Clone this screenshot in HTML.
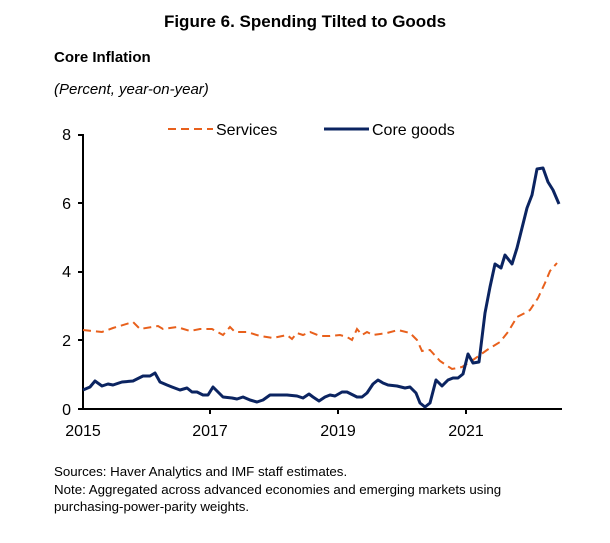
<!DOCTYPE html>
<html><head><meta charset="utf-8"><style>
body{margin:0;background:#fff;width:610px;height:538px;overflow:hidden;font-family:"Liberation Sans",Arial,sans-serif}
</style></head><body>
<svg width="610" height="538" xmlns="http://www.w3.org/2000/svg" font-family="Liberation Sans, Arial, sans-serif">
<text x="305" y="27" text-anchor="middle" font-size="17" font-weight="bold">Figure 6. Spending Tilted to Goods</text>
<text x="54" y="62" font-size="15" font-weight="bold">Core Inflation</text>
<text x="54" y="94" font-size="15" font-style="italic">(Percent, year-on-year)</text>
<g font-size="16" fill="#000">
<text x="71" y="140" text-anchor="end">8</text>
<text x="71" y="209" text-anchor="end">6</text>
<text x="71" y="277" text-anchor="end">4</text>
<text x="71" y="346" text-anchor="end">2</text>
<text x="71" y="415" text-anchor="end">0</text>
<text x="83" y="436" text-anchor="middle">2015</text>
<text x="210" y="436" text-anchor="middle">2017</text>
<text x="338" y="436" text-anchor="middle">2019</text>
<text x="466" y="436" text-anchor="middle">2021</text>
<text x="216" y="135">Services</text>
<text x="372" y="135">Core goods</text>
</g>
<line x1="168" y1="129" x2="213" y2="129" stroke="#E8601C" stroke-width="2" stroke-dasharray="8,5"/>
<line x1="324" y1="129" x2="369" y2="129" stroke="#0B2461" stroke-width="3"/>
<g stroke="#000" stroke-width="2">
<line x1="83" y1="134" x2="83" y2="410"/>
<line x1="82" y1="409" x2="562" y2="409"/>
<line x1="78" y1="135" x2="83" y2="135"/><line x1="78" y1="203" x2="83" y2="203"/><line x1="78" y1="272" x2="83" y2="272"/><line x1="78" y1="340" x2="83" y2="340"/><line x1="78" y1="409" x2="83" y2="409"/>
<line x1="210" y1="409" x2="210" y2="414"/><line x1="338" y1="409" x2="338" y2="414"/><line x1="466" y1="409" x2="466" y2="414"/>
</g>
<polyline fill="none" stroke="#E8601C" stroke-width="2" stroke-dasharray="8,5" points="83,330 102,332 113,328 133,322 140,329 158,326 163,329 177,327 190,331 200,329 212,329 223,335 230,327 235,332 247,332 260,336 273,338 287,335 292,339 297,333 303,335 310,332 320,336 330,336 340,335 347,337 352,340 357,329 362,335 367,332 373,335 387,333 398,330 410,333 417,340 422,351 430,350 440,361 452,369 462,367 473,360 487,350 500,342 508,332 517,317 525,313 530,310 538,298 545,283 550,271 557,263"/>
<polyline fill="none" stroke="#0B2461" stroke-width="3" stroke-linejoin="round" points="83,390 90,387 95,381 102,386 108,384 113,385 122,382 133,381 143,376 150,376 155,373 160,382 167,385 172,387 180,390 187,388 192,392 197,392 203,395 208,395 213,387 223,397 232,398 237,399 243,397 250,400 257,402 263,400 270,395 280,395 287,395 297,396 303,398 309,394 313,397 319,401 325,397 330,395 335,396 342,392 347,392 357,397 362,397 367,393 373,384 378,380 383,383 388,385 397,386 405,388 410,387 416,393 420,403 425,407 430,403 436,380 442,386 448,380 453,378 458,378 463,374 468,354 473,363 479,362 485,313 490,287 495,264 501,268 505,255 512,264 517,248 522,228 527,208 532,195 537,169 543,168 548,182 553,190 559,204"/>
<g font-size="13.3">
<text x="54" y="476">Sources: Haver Analytics and IMF staff estimates.</text>
<text x="54" y="494">Note: Aggregated across advanced economies and emerging markets using</text>
<text x="54" y="511">purchasing-power-parity weights.</text>
</g>
</svg>
</body></html>
